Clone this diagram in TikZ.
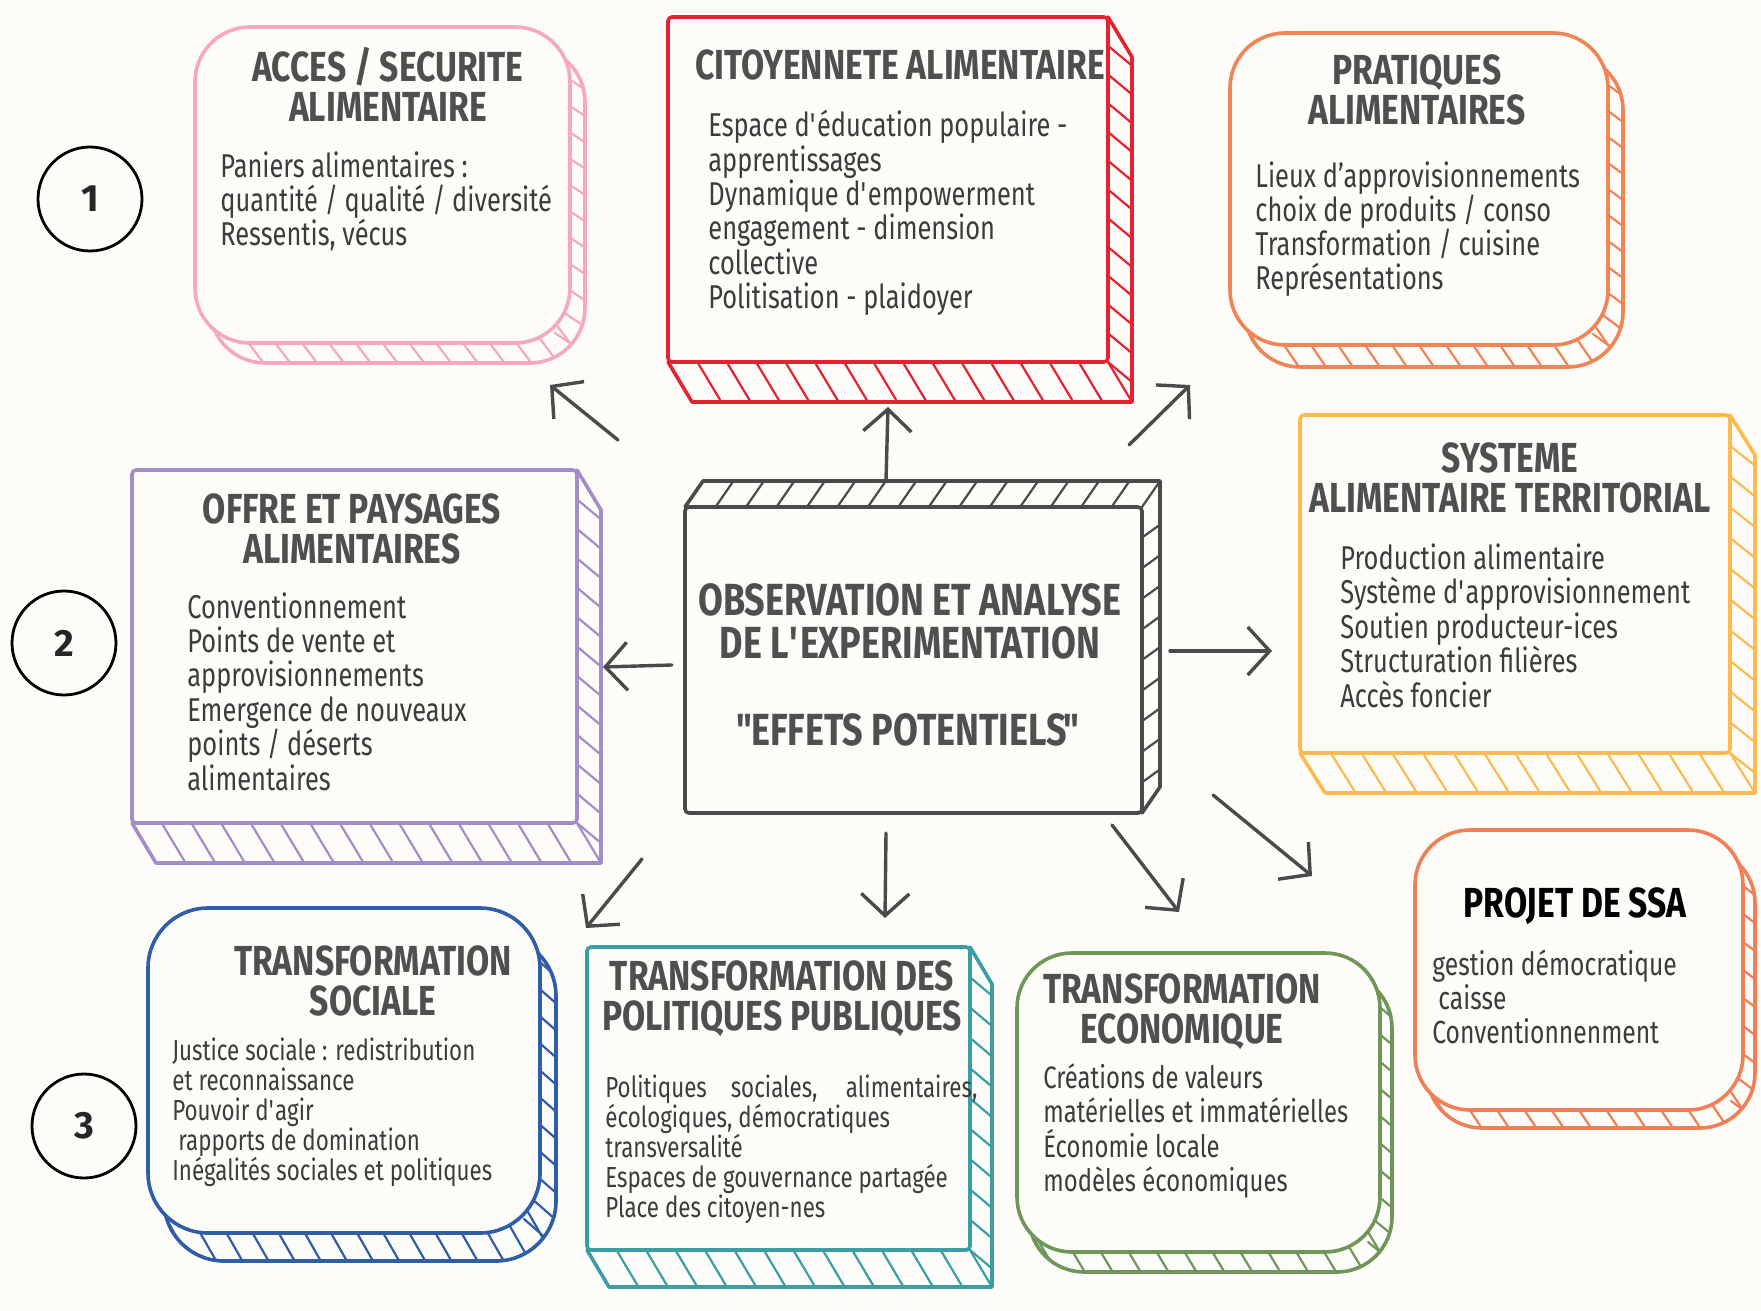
\documentclass[tikz,border=0pt]{standalone}
\usepackage{fontspec}
\setmainfont{Fira Sans}[FakeStretch=0.77, BoldFeatures={FakeStretch=0.8}]
\newfontfamily\numfont{Fira Sans}
\usetikzlibrary{arrows.meta}
\definecolor{bg}{HTML}{FDFCF8}
\definecolor{cpink}{HTML}{F5A8C0}
\definecolor{cred}{HTML}{E52330}
\definecolor{corange}{HTML}{F08456}
\definecolor{cdark}{HTML}{4A4A4A}
\definecolor{cpurple}{HTML}{A38DC9}
\definecolor{cyellow}{HTML}{FDBA50}
\definecolor{cblue}{HTML}{2F5DA8}
\definecolor{cteal}{HTML}{3A9EA5}
\definecolor{cgreen}{HTML}{6F9659}
\definecolor{cssa}{HTML}{F07F57}
\definecolor{titlegray}{HTML}{4F4F4F}
\definecolor{bodygray}{HTML}{3C3C3C}
\newcommand\apos{\textquotesingle}
% multi-line texts whose baseline is the first line
\newcommand\ltext[1]{\vtop{\halign{##\hfil\cr#1\crcr}}}
\newcommand\ctext[1]{\vtop{\halign{\hfil##\hfil\cr#1\crcr}}}
% hatch lines across the depth band
\newcommand\hatchlines[7]{%
  \pgfmathsetmacro\dbW{#3-(#1)}%
  \pgfmathsetmacro\dbH{#4-(#2)}%
  \pgfmathsetmacro\dbHy{(#6)>0 ? #4 : #2}%
  \pgfmathtruncatemacro\dbNh{max(1,round(\dbW/#7))}%
  \pgfmathtruncatemacro\dbNv{max(1,round(\dbH/#7))}%
  \foreach \k in {0,...,\dbNh}{%
    \pgfmathsetmacro\hx{#1+\k*\dbW/\dbNh}%
    \draw[line width=1.1pt] ({\hx-(#5)},{\dbHy-(#6)}) -- ({\hx+2*(#5)},{\dbHy+2*(#6)});}%
  \foreach \k in {1,...,\dbNv}{%
    \pgfmathsetmacro\hy{#2+\k*\dbH/\dbNv}%
    \draw[line width=1.1pt] ({#3-(#5)},{\hy-0.5*(#6)}) -- ({#3+2*(#5)},{\hy+(#6)});}%
}
% box with straight edges and a hatched depth band
\newcommand\rectbox[8]{%
  \pgfmathsetmacro\dbHy{(#8)>0 ? #6 : #4}%
  \pgfmathsetmacro\dbOy{(#8)>0 ? #4 : #6}%
  \begin{scope}[draw=#2, line width=1.8pt, line join=round, line cap=round]
    \begin{scope}
      \clip (#3,\dbOy) -- (#3,\dbHy) -- ({#3+(#7)},{\dbHy+(#8)}) -- ({#5+(#7)},{\dbHy+(#8)}) -- ({#5+(#7)},{\dbOy+(#8)}) -- (#5,\dbOy) -- cycle;
      \hatchlines{#3}{#4}{#5}{#6}{#7}{#8}{30}
    \end{scope}
    \pgfmathsetmacro\dbHy{(#8)>0 ? #6 : #4}%
    \draw (#3,\dbHy) -- ({#3+(#7)},{\dbHy+(#8)}) -- ({#5+(#7)},{\dbHy+(#8)}) -- ({#5+(#7)},{\dbOy+(#8)}) -- (#5,\dbOy);
    \draw[fill=bg, rounded corners=2pt] (#3,#4) rectangle (#5,#6);
    \coordinate (#1) at ({(#3+#5)/2},{(#4+#6)/2});
  \end{scope}}
% rounded box with a hatched depth band
\newcommand\roundbox[9]{%
  \begin{scope}[draw=#2, line width=1.8pt, line join=round, line cap=round]
    \begin{scope}
      \clip[rounded corners=#9*0.5pt] ({#3+(#7)},{#4+(#8)}) rectangle ({#5+(#7)},{#6+(#8)});
      \hatchlines{#3}{#4}{#5}{#6}{#7}{#8}{27}
    \end{scope}
    \draw[rounded corners=#9*0.5pt] ({#3+(#7)},{#4+(#8)}) rectangle ({#5+(#7)},{#6+(#8)});
    \draw[fill=bg, rounded corners=#9*0.5pt] (#3,#4) rectangle (#5,#6);
    \coordinate (#1) at ({(#3+#5)/2},{(#4+#6)/2});
  \end{scope}}
\tikzset{
  ttl/.style={anchor=base, inner sep=0, text=titlegray,
    font=\fontsize{21}{20}\selectfont\bfseries},
  bdy/.style={anchor=base west, inner sep=0, text=bodygray,
    font=\fontsize{16.5}{17.2}\selectfont},
  sbdy/.style={anchor=base west, inner sep=0, text=bodygray,
    font=\fontsize{14.5}{15}\selectfont},
  arr/.style={draw=cdark, line width=1.7pt, line cap=round,
    -{Straight Barb[length=11pt,width=24pt,line width=1.7pt]}},
  num/.style={circle, draw=black, line width=1.4pt, minimum size=52pt, inner sep=0,
    font=\numfont\bfseries\fontsize{19}{19}\selectfont, text=black!85},
}
\begin{document}
\begin{tikzpicture}[x=0.5pt,y=-0.5pt]
\fill[bg] (0,0) rectangle (1761,1311);
\useasboundingbox (0,0) rectangle (1761,1311);

% boxes
\roundbox{pinkbox}{cpink}{195}{27}{570}{343}{15}{20}{55}
\rectbox{redbox}{cred}{668}{17}{1108}{362}{24}{40}
\roundbox{orgbox}{corange}{1230}{33}{1608}{345}{15}{22}{55}
\rectbox{ctrbox}{cdark}{685}{507}{1142}{813}{18}{-26}
\rectbox{purbox}{cpurple}{132}{470}{577}{823}{24}{40}
\rectbox{yelbox}{cyellow}{1300}{415}{1730}{753}{25}{40}
\roundbox{blubox}{cblue}{148}{908}{540}{1233}{16}{28}{60}
\rectbox{tealbox}{cteal}{587}{947}{970}{1250}{22}{37}
\roundbox{grnbox}{cgreen}{1017}{953}{1380}{1252}{12}{20}{55}
\roundbox{ssabox}{cssa}{1415}{830}{1743}{1110}{12}{18}{55}

% texts
\node[ttl] (t1) at (388,82) {\ctext{ACCES / SECURITE\cr ALIMENTAIRE}};
\node[bdy, font=\fontsize{16.5}{17}\selectfont] (b1) at (220,177) {\ltext{Paniers alimentaires :\cr quantité / qualité / diversité\cr Ressentis, vécus}};

\node[ttl] (t2) at (900,80) {CITOYENNETE ALIMENTAIRE};
\node[bdy, font=\fontsize{16.5}{17.15}\selectfont] (b2) at (708,137) {\ltext{Espace d\apos éducation populaire -\cr apprentissages\cr Dynamique d\apos empowerment\cr engagement - dimension\cr collective\cr Politisation - plaidoyer}};

\node[ttl] (t3) at (1417,85) {\ctext{PRATIQUES\cr ALIMENTAIRES}};
\node[bdy, font=\fontsize{16.5}{17.15}\selectfont] (b3) at (1255,187) {\ltext{Lieux d’approvisionnements\cr choix de produits / conso\cr Transformation / cuisine\cr Représentations}};

\node[ttl, font=\fontsize{22.5}{21.5}\selectfont\bfseries] (t4) at (910,615) {\ctext{OBSERVATION ET ANALYSE\cr DE L\apos EXPERIMENTATION\cr\noalign{\vskip 22pt}\textquotedbl\kern-2.5pt EFFETS POTENTIELS\kern-1.5pt\textquotedbl}};

\node[ttl] (t5) at (352,523) {\ctext{OFFRE ET PAYSAGES\cr ALIMENTAIRES}};
\node[bdy, font=\fontsize{16.5}{17.2}\selectfont] (b5) at (187,618) {\ltext{Conventionnement\cr Points de vente et\cr approvisionnements\cr Emergence de nouveaux\cr points / déserts\cr alimentaires}};

\node[ttl] (t6) at (1510,472) {\ctext{SYSTEME\cr ALIMENTAIRE TERRITORIAL}};
\node[bdy, font=\fontsize{16.5}{17.25}\selectfont] (b6) at (1340,569) {\ltext{Production alimentaire\cr Système d\apos approvisionnement\cr Soutien producteur-ices\cr Structuration filières\cr Accès foncier}};

\node[ttl] (t7) at (373,975) {\ctext{TRANSFORMATION\cr SOCIALE}};
\node[sbdy] (b7) at (172,1060) {\ltext{Justice sociale : redistribution\cr et reconnaissance\cr Pouvoir d\apos agir\cr \hspace{3pt}rapports de domination\cr Inégalités sociales et politiques}};

\node[ttl] (t8) at (782,990) {\ctext{TRANSFORMATION DES\cr POLITIQUES PUBLIQUES}};
\node[sbdy, font=\fontsize{14.5}{15.1}\selectfont] (b8) at (605,1097) {\ltext{\makebox[186pt][s]{Politiques sociales, alimentaires,}\cr écologiques, démocratiques\cr transversalité\cr Espaces de gouvernance partagée\cr Place des citoyen-nes}};

\node[ttl] (t9) at (1182,1003) {\ctext{TRANSFORMATION\cr ECONOMIQUE}};
\node[bdy, font=\fontsize{15.5}{17.3}\selectfont] (b9) at (1043,1088) {\ltext{Créations de valeurs\cr matérielles et immatérielles\cr Économie locale\cr modèles économiques}};

\node[ttl, text=black] (t10) at (1575,917) {PROJET DE SSA};
\node[bdy, font=\fontsize{16}{17}\selectfont] (b10) at (1432,975) {\ltext{gestion démocratique\cr \hspace{3pt}caisse\cr Conventionnenment}};

% numbered circles
\node[num] (n1) at (90,199) {1};
\node[num] (n2) at (64,643) {2};
\node[num] (n3) at (84,1126) {3};

% arrows
\coordinate (a1s) at (618,440); \coordinate (a1e) at (550,385);
\coordinate (a2s) at (886,480); \coordinate (a2e) at (888,407);
\coordinate (a3s) at (1129,445); \coordinate (a3e) at (1190,385);
\coordinate (a4s) at (672,665); \coordinate (a4e) at (603,667);
\coordinate (a5s) at (1170,651); \coordinate (a5e) at (1272,651);
\coordinate (a6s) at (642,859); \coordinate (a6e) at (586,928);
\coordinate (a7s) at (886,833); \coordinate (a7e) at (885,918);
\coordinate (a8s) at (1112,825); \coordinate (a8e) at (1179,912);
\coordinate (a9s) at (1213,795); \coordinate (a9e) at (1312,876);
\foreach \i in {1,...,9}{\draw[arr] (a\i s) -- (a\i e);}
\end{tikzpicture}
\end{document}
